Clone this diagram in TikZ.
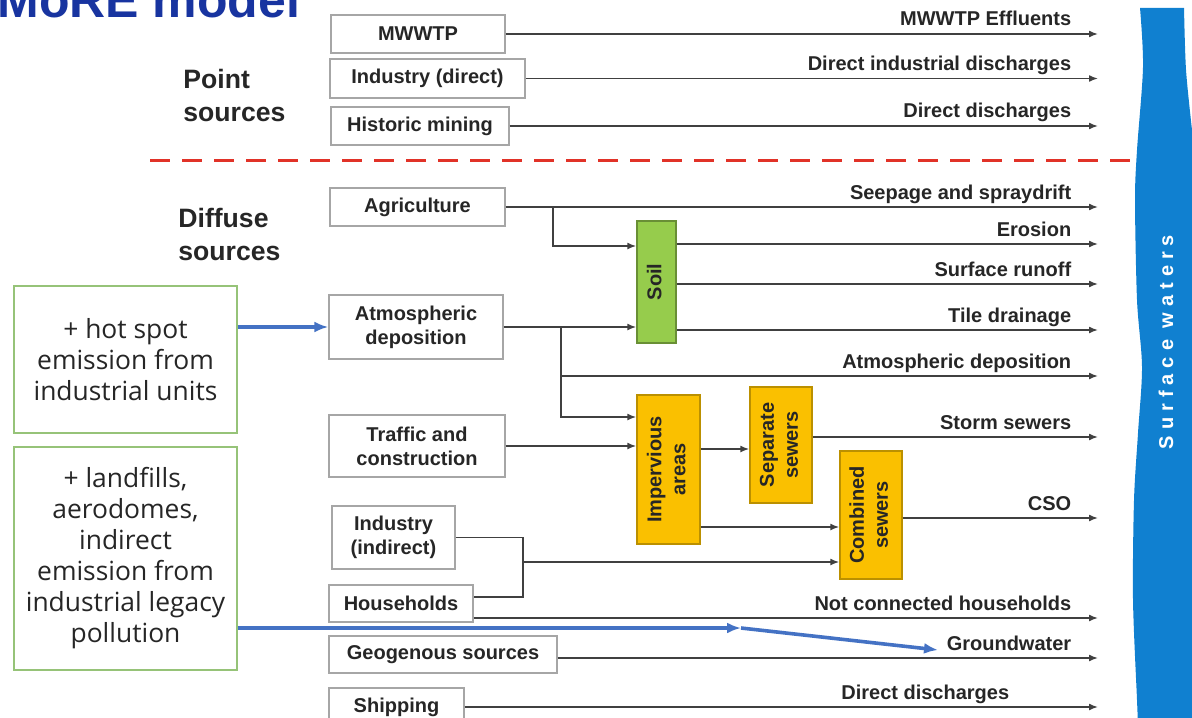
\documentclass[tikz,border=0pt]{standalone}
\usepackage{graphicx}
\usepackage{fontspec}
\setmainfont{Liberation Sans}
\newfontfamily\notefont{Open Sans}
\newfontfamily\bandfont[LetterSpace=30]{Liberation Sans Bold}
\usetikzlibrary{arrows.meta,positioning}

\definecolor{titleblue}{RGB}{24,52,160}
\definecolor{waterblue}{RGB}{16,128,208}
\definecolor{soilgreen}{RGB}{150,204,76}
\definecolor{sewerorange}{RGB}{250,192,0}
\definecolor{notegreen}{RGB}{150,195,120}
\definecolor{hintblue}{RGB}{68,114,196}
\definecolor{dashred}{RGB}{225,50,40}

\newcommand{\vlabel}[1]{\rotatebox{90}{\begin{tabular}{@{}c@{}}#1\end{tabular}}}

\begin{document}
\begin{tikzpicture}[x=0.5pt, y=-0.5pt, >={Latex[length=4.5pt,width=3.5pt]},
  src/.style={draw=gray!70, line width=0.7pt, fill=white, text=black!85,
    font=\bfseries\fontsize{10}{12}\selectfont, align=center, inner sep=0pt},
  soilbox/.style={src, fill=soilgreen, draw=soilgreen!70!black},
  sewerbox/.style={src, fill=sewerorange, draw=sewerorange!75!black},
  flow/.style={->, draw=black!75, line width=0.8pt},
  link/.style={draw=black!75, line width=0.8pt},
  lbl/.style={anchor=base east, xshift=-13pt, yshift=4pt, inner sep=0pt,
    font=\bfseries\fontsize{10}{12}\selectfont, text=black!85},
  note/.style={draw=notegreen, line width=0.7pt, minimum width=111.5pt,
    font=\notefont\fontsize{13.2}{15.5}\selectfont, align=center, text=black!85},
  hint/.style={-{Latex[length=7pt,width=5.5pt]}, draw=hintblue, line width=1.8pt},
  group/.style={anchor=west, align=left, inner sep=0pt, text=black!85,
    font=\bfseries\fontsize{13.3}{16.5}\selectfont}]
  \useasboundingbox (0,0) rectangle (1192,717);
  \fill[white] (0,0) rectangle (1192,717);

  % title, cut by the top edge
  \node[anchor=base west, inner sep=0pt, text=titleblue,
    font=\bfseries\fontsize{25}{30}\selectfont] (title) at (-3,18) {MoRE model};

  % surface waters band
  \fill[waterblue] plot[smooth] coordinates {(1140,8) (1143,67) (1137,150)
      (1135,200) (1137,300) (1142,367) (1138,433) (1134,500) (1133,600)
      (1137,700) (1138,725)}
    -- (1200,725) -- (1200,130) -- plot[smooth] coordinates {(1192,130)
      (1186,70) (1184,8)} -- cycle;
  \node[rotate=90, text=white, font=\bandfont\fontsize{10}{12}\selectfont]
    (water) at (1166,342) {Surface waters};
  \coordinate (sw) at (1098,0);

  \node[group] (point) at (183,95) {Point\\sources};
  \node[group] (diffuse) at (178,234) {Diffuse\\sources};

  \draw[dashred, line width=1.5pt, dash pattern=on 10pt off 6pt] (150,160) -- (1135,160);

  % point sources
  \node[src, minimum width=87pt, minimum height=19pt] (mwwtp) at (418,34) {MWWTP};
  \node[src, minimum width=97.5pt, minimum height=19.5pt] (inddir) at (427.5,78.5) {Industry (direct)};
  \node[src, minimum width=89pt, minimum height=19pt] (mining) at (420,126) {Historic mining};

  \draw[flow] (mwwtp.east) -- (sw |- mwwtp.east) node[lbl] {MWWTP Effluents};
  \draw[flow] (inddir.east) -- (sw |- inddir.east) node[lbl] {Direct industrial discharges};
  \draw[flow] (mining.east) -- (sw |- mining.east) node[lbl] {Direct discharges};

  % diffuse sources
  \node[src, minimum width=87.5pt, minimum height=19pt] (agri) at (417.5,207) {Agriculture};
  \node[src, minimum width=87pt, minimum height=32pt] (atmo) at (416,327) {Atmospheric\\deposition};
  \node[src, minimum width=88pt, minimum height=31pt] (traffic) at (417,446) {Traffic and\\construction};
  \node[src, minimum width=61.5pt, minimum height=31.5pt] (indind) at (393.5,537.5) {Industry\\(indirect)};
  \node[src, minimum width=72pt, minimum height=18.5pt] (house) at (401,603.5) {Households};
  \node[src, minimum width=114pt, minimum height=18.5pt] (geo) at (443,654.5) {Geogenous sources};
  \node[src, minimum width=67.5pt, minimum height=19pt] (ship) at (396.5,707) {Shipping};

  \node[soilbox, minimum width=19.5pt, minimum height=61pt] (soil) at (656.5,282) {\vlabel{Soil}};
  \node[sewerbox, minimum width=31.5pt, minimum height=74.5pt] (imperv) at (668.5,469.5) {\vlabel{Impervious\\areas}};
  \node[sewerbox, minimum width=31pt, minimum height=58pt] (sep) at (781,445) {\vlabel{Separate\\sewers}};
  \node[sewerbox, minimum width=31pt, minimum height=64pt] (comb) at (871,515) {\vlabel{Combined\\sewers}};

  % agriculture
  \coordinate (agj) at (553,207);
  \draw[flow] (agri.east) -- (sw |- agri.east) node[lbl] {Seepage and spraydrift};
  \draw[flow] (agj) |- (soil.west |- 0,246);
  \draw[flow] (soil.east |- 0,244) -- (sw |- 0,244) node[lbl] {Erosion};
  \draw[flow] (soil.east |- 0,284) -- (sw |- 0,284) node[lbl] {Surface runoff};
  \draw[flow] (soil.east |- 0,330) -- (sw |- 0,330) node[lbl] {Tile drainage};

  % atmospheric deposition
  \coordinate (atj) at (561,327);
  \draw[flow] (atmo.east) -- (soil.west |- atmo.east);
  \draw[flow] (atj) |- (sw |- 0,376) node[lbl] {Atmospheric deposition};
  \draw[flow] (atj) |- (imperv.west |- 0,417);

  % traffic and sewers
  \draw[flow] (traffic.east) -- (imperv.west |- traffic.east);
  \draw[flow] (imperv.east |- 0,449) -- (sep.west |- 0,449);
  \draw[flow] (sep.east |- 0,437) -- (sw |- 0,437) node[lbl] {Storm sewers};
  \draw[flow] (imperv.east |- 0,527) -- (comb.west |- 0,527);
  \draw[flow] (comb.east |- 0,518) -- (sw |- 0,518) node[lbl] {CSO};

  % industry (indirect) and households
  \coordinate (hj) at (523,562);
  \draw[link] (indind.east) -| (523,597) -- (house.east |- 0,597);
  \draw[flow] (hj) -- (comb.west |- hj);
  \draw[flow] (house.east |- 0,618) -- (sw |- 0,618) node[lbl] {Not connected households};
  \draw[flow] (geo.east |- 0,658) -- (sw |- 0,658) node[lbl] {Groundwater};
  \draw[flow] (ship.east) -- (sw |- ship.east) node[lbl, xshift=-31pt] {Direct discharges};

  % additions
  \node[note, minimum height=73.5pt] (note1) at (125.5,359.5)
    {+ hot spot\\emission from\\industrial units};
  \node[note, minimum height=111.5pt] (note2) at (125.5,558.5)
    {+ landfills,\\aerodomes,\\indirect\\emission from\\industrial legacy\\pollution};
  \coordinate (gwj) at (741,628);
  \coordinate (gwt) at (938,650);
  \draw[hint] (note1.east |- atmo.west) -- (atmo.west);
  \draw[hint] (note2.east |- gwj) -- (gwj);
  \draw[hint] (gwj) -- (gwt);
\end{tikzpicture}
\end{document}
